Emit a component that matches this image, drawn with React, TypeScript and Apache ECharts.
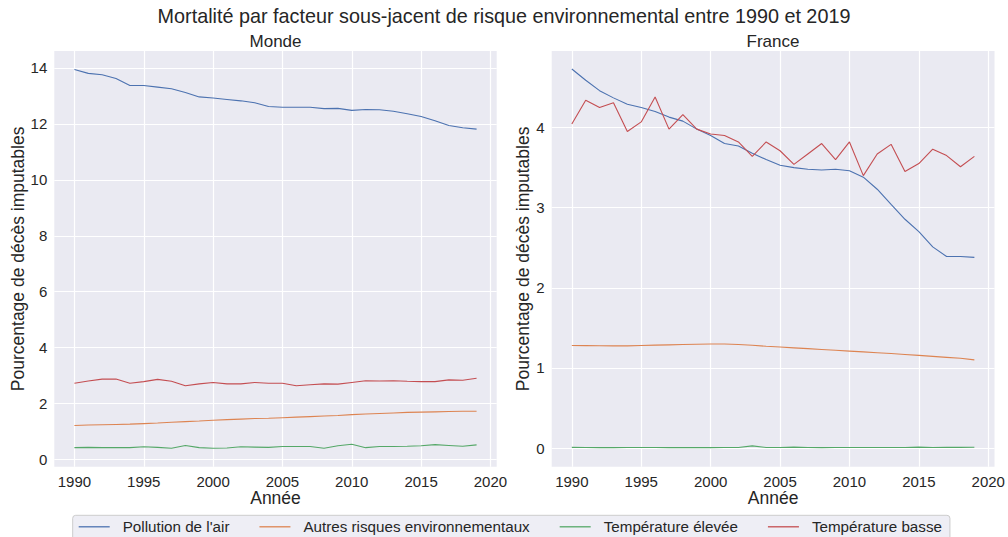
import React, { useEffect, useRef } from "react";
import * as echarts from "echarts";

const years = [1990, 1991, 1992, 1993, 1994, 1995, 1996, 1997, 1998, 1999, 2000, 2001, 2002, 2003, 2004, 2005, 2006, 2007, 2008, 2009, 2010, 2011, 2012, 2013, 2014, 2015, 2016, 2017, 2018, 2019];
const seriesNames = ["Pollution de l'air", "Autres risques environnementaux", "Température élevée", "Température basse"];
const colors = ["#4c72b0", "#dd8452", "#55a868", "#c44e52"];

const mondeAir = [13.94, 13.8, 13.75, 13.62, 13.37, 13.37, 13.31, 13.25, 13.12, 12.96, 12.92, 12.87, 12.82, 12.75, 12.62, 12.59, 12.59, 12.59, 12.54, 12.55, 12.48, 12.51, 12.5, 12.45, 12.36, 12.26, 12.11, 11.94, 11.86, 11.81];
const mondeAutres = [1.22, 1.24, 1.25, 1.26, 1.27, 1.29, 1.31, 1.34, 1.36, 1.38, 1.41, 1.43, 1.45, 1.47, 1.48, 1.5, 1.52, 1.54, 1.56, 1.58, 1.61, 1.63, 1.65, 1.67, 1.69, 1.7, 1.71, 1.72, 1.73, 1.73];
const mondeChaud = [0.43, 0.44, 0.43, 0.43, 0.43, 0.46, 0.44, 0.41, 0.51, 0.43, 0.41, 0.42, 0.46, 0.45, 0.44, 0.47, 0.47, 0.47, 0.41, 0.5, 0.55, 0.43, 0.47, 0.47, 0.48, 0.5, 0.54, 0.51, 0.48, 0.53];
const mondeFroid = [2.73, 2.81, 2.88, 2.88, 2.73, 2.79, 2.87, 2.8, 2.64, 2.71, 2.76, 2.71, 2.71, 2.76, 2.73, 2.73, 2.64, 2.68, 2.71, 2.7, 2.76, 2.82, 2.81, 2.82, 2.8, 2.79, 2.79, 2.85, 2.84, 2.91];

const franceAir = [4.73, 4.59, 4.46, 4.37, 4.29, 4.25, 4.2, 4.13, 4.08, 3.98, 3.9, 3.8, 3.77, 3.68, 3.6, 3.53, 3.5, 3.48, 3.47, 3.48, 3.46, 3.38, 3.23, 3.04, 2.855, 2.7, 2.51, 2.39, 2.39, 2.38];
const franceAutres = [1.28, 1.278, 1.276, 1.275, 1.275, 1.28, 1.284, 1.288, 1.292, 1.296, 1.298, 1.298, 1.292, 1.282, 1.27, 1.26, 1.25, 1.24, 1.23, 1.22, 1.21, 1.2, 1.19, 1.18, 1.168, 1.156, 1.144, 1.132, 1.12, 1.1];
const franceChaud = [0.008, 0.006, 0.005, 0.005, 0.006, 0.007, 0.006, 0.005, 0.006, 0.005, 0.005, 0.006, 0.006, 0.027, 0.006, 0.007, 0.011, 0.006, 0.005, 0.006, 0.006, 0.006, 0.006, 0.006, 0.006, 0.011, 0.007, 0.008, 0.008, 0.009];
const franceFroid = [4.045, 4.34, 4.25, 4.31, 3.95, 4.07, 4.38, 3.98, 4.16, 3.98, 3.92, 3.9, 3.82, 3.64, 3.82, 3.71, 3.54, 3.67, 3.8, 3.6, 3.82, 3.4, 3.67, 3.79, 3.45, 3.55, 3.73, 3.65, 3.51, 3.64];

const xTicks = [1990, 1995, 2000, 2005, 2010, 2015, 2020];
const yTicksMonde = [0, 2, 4, 6, 8, 10, 12, 14];
const yTicksFrance = [0, 1, 2, 3, 4];

const mainTitle = "Mortalité par facteur sous-jacent de risque environnemental entre 1990 et 2019";
const subTitles = ["Monde", "France"];
const xName = "Année";
const yName = "Pourcentage de décès imputables";

const FONT = "'Liberation Sans', Arial, sans-serif";
const TXT = "#262626";

export default function App() {
  const ref = useRef<HTMLDivElement>(null);
  useEffect(() => {
    if (!ref.current) return;
    const chart = echarts.init(ref.current, null, { renderer: "svg" });
    const grids = [
      { left: 54.3, top: 51, width: 442.4, height: 415.7 },
      { left: 551.7, top: 51, width: 442.8, height: 415.7 },
    ];
    const xAxis = [0, 1].map((g) => ({
      type: "value",
      gridIndex: g,
      min: 1988.55,
      max: 2020.45,
      axisLine: { show: false },
      axisTick: { show: false, customValues: xTicks },
      axisLabel: { customValues: xTicks, fontSize: 15, color: TXT, margin: 7, fontFamily: FONT, formatter: (v: number) => String(v) },
      splitLine: { show: true, lineStyle: { color: "#ffffff", width: 1.2 } },
      name: xName,
      nameLocation: "middle",
      nameGap: 22.5,
      nameMoveOverlap: false,
      nameTextStyle: { fontSize: 17.5, color: TXT, fontFamily: FONT },
    }));
    const yRanges = [
      { min: -0.25, max: 14.6, ticks: yTicksMonde, gap: 25 },
      { min: -0.233, max: 4.955, ticks: yTicksFrance, gap: 16 },
    ];
    const yAxis = yRanges.map((r, g) => ({
      type: "value",
      gridIndex: g,
      min: r.min,
      max: r.max,
      axisLine: { show: false },
      axisTick: { show: false, customValues: r.ticks },
      axisLabel: { customValues: r.ticks, fontSize: 15, color: TXT, margin: 7, fontFamily: FONT },
      splitLine: { show: true, lineStyle: { color: "#ffffff", width: 1.2 } },
      name: yName,
      nameLocation: "middle",
      nameGap: r.gap,
      nameTextStyle: { fontSize: 17.5, color: TXT, fontFamily: FONT },
    }));
    const datasets = [
      [mondeAir, mondeAutres, mondeChaud, mondeFroid],
      [franceAir, franceAutres, franceChaud, franceFroid],
    ];
    const series: any[] = [];
    datasets.forEach((set, g) => {
      set.forEach((vals, i) => {
        series.push({
          type: "line",
          name: seriesNames[i],
          xAxisIndex: g,
          yAxisIndex: g,
          data: years.map((y, k) => [y, vals[k]]),
          showSymbol: false,
          symbol: "none",
          lineStyle: { color: colors[i], width: 1.1 },
          itemStyle: { color: colors[i] },
        });
      });
    });
    chart.setOption({
      animation: false,
      backgroundColor: "#ffffff",
      grid: grids.map((g) => ({ ...g, show: true, backgroundColor: "#eaeaf2", borderWidth: 0 })),
      xAxis,
      yAxis,
      series,
      legend: {
        data: seriesNames,
        left: 72.7,
        top: 515.3,
        orient: "horizontal",
        icon: "rect",
        itemWidth: 31,
        itemHeight: 1.3,
        itemGap: 30,
        padding: [4, 8, 12, 6],
        backgroundColor: "#eeeef5",
        borderColor: "#cccccc",
        borderWidth: 1,
        borderRadius: 3,
        textStyle: { fontSize: 15.2, color: TXT, fontFamily: FONT, padding: [0, 0, 0, 8] },
      },
      graphic: [
        { type: "text", left: "center", top: 6, style: { text: mainTitle, fontSize: 19.8, fill: TXT, fontFamily: FONT } },
        { type: "text", x: 275.5, y: 41, style: { text: subTitles[0], fontSize: 17, fill: TXT, fontFamily: FONT, align: "center", verticalAlign: "middle" } },
        { type: "text", x: 773, y: 41, style: { text: subTitles[1], fontSize: 17, fill: TXT, fontFamily: FONT, align: "center", verticalAlign: "middle" } },
      ],
    });
    return () => chart.dispose();
  }, []);
  return <div ref={ref} style={{ position: "fixed", left: 0, top: 0, width: 1008, height: 537 }} />;
}
